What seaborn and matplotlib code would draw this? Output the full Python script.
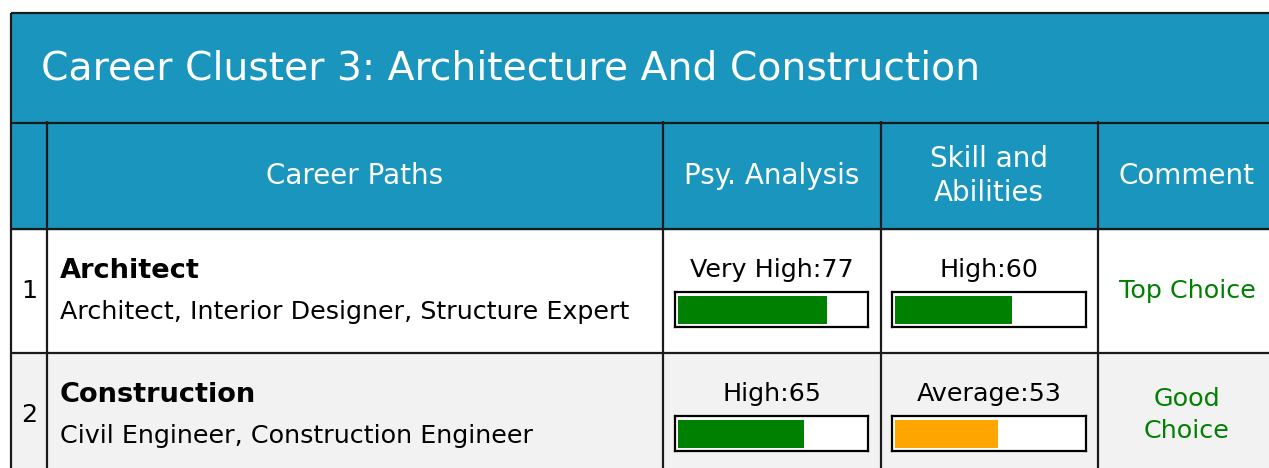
import matplotlib.pyplot as plt
from matplotlib.patches import Rectangle
import seaborn as sns

sns.set_style("white")
plt.rcParams['font.family'] = ['DejaVu Sans']
plt.rcParams['text.color'] = 'black'

title = "Career Cluster 3: Architecture And Construction"
headers = ["Career Paths", "Psy. Analysis", "Skill and\nAbilities", "Comment"]
ranks = ["1", "2"]
paths = ["Architect", "Construction"]
jobs = ["Architect, Interior Designer, Structure Expert",
        "Civil Engineer, Construction Engineer"]
psy_levels = ["Very High", "High"]
psy_scores = [77, 65]
skill_levels = ["High", "Average"]
skill_scores = [60, 53]
comments = ["Top Choice", "Good\nChoice"]

level_colors = {"Very High": "#008000", "High": "#008000", "Average": "#FFA500"}
HEADER = "#1a95be"
W, H = 1269, 468

fig = plt.figure(figsize=(W / 100, H / 100), dpi=100)
ax = fig.add_axes([0, 0, 1, 1])
ax.set_xlim(0, W)
ax.set_ylim(H, 0)
ax.axis('off')

# backgrounds
ax.add_patch(Rectangle((11, 13), W, 216, color=HEADER, zorder=0))
ax.add_patch(Rectangle((11, 353), W, H - 353, color="#f2f2f2", zorder=0))

# grid lines
lw = 1.6
ax.hlines([13, 123, 229, 353], 11, W, color="#1a1a1a", lw=lw)
ax.vlines(11, 13, H, color="#1a1a1a", lw=lw)
ax.vlines([47, 663, 881, 1098], 121, H, color="#1a1a1a", lw=lw)

ax.text(41, 68, title, color="white", fontsize=28.3, va='center', ha='left')

header_x = [355, 772, 989, 1187]
for hx, h in zip(header_x, headers):
    ax.text(hx, 176, h, color="white", fontsize=20, va='center', ha='center',
            linespacing=1.3)

row_top = [229, 353]
box_x = [675, 892]
box_w = [193, 194]
for i in range(len(ranks)):
    top = row_top[i]
    ax.text(29, top + 62, ranks[i], fontsize=18.3, va='center', ha='center')
    ax.text(60, top + 42, paths[i], fontsize=19.6, fontweight='bold', va='center')
    ax.text(60, top + 83, jobs[i], fontsize=18.3, va='center')
    ax.text(772, top + 41, f"{psy_levels[i]}:{psy_scores[i]}", fontsize=18.3,
            va='center', ha='center')
    ax.text(989, top + 41, f"{skill_levels[i]}:{skill_scores[i]}", fontsize=18.3,
            va='center', ha='center')
    ax.text(1187, top + 62, comments[i], fontsize=18.3, color="#008000",
            va='center', ha='center', linespacing=1.4)

    for bx, bw, lvl, score in zip(box_x, box_w, [psy_levels[i], skill_levels[i]],
                                  [psy_scores[i], skill_scores[i]]):
        by = top + 63
        bax = fig.add_axes([bx / W, 1 - (by + 35) / H, bw / W, 35 / H])
        sns.barplot(x=[score], y=[0], orient='h', color=level_colors[lvl],
                    saturation=1, linewidth=0, width=0.8, ax=bax)
        bax.set_xlim(-1.5, 98)
        bax.set_ylim(0.5, -0.5)
        bax.set_facecolor("white")
        bax.set_xticks([])
        bax.set_yticks([])
        bax.set_xlabel("")
        bax.set_ylabel("")
        for s in bax.spines.values():
            s.set_color("black")
            s.set_linewidth(1.6)
            s.set_visible(True)

fig.savefig("out.png", dpi=100)
